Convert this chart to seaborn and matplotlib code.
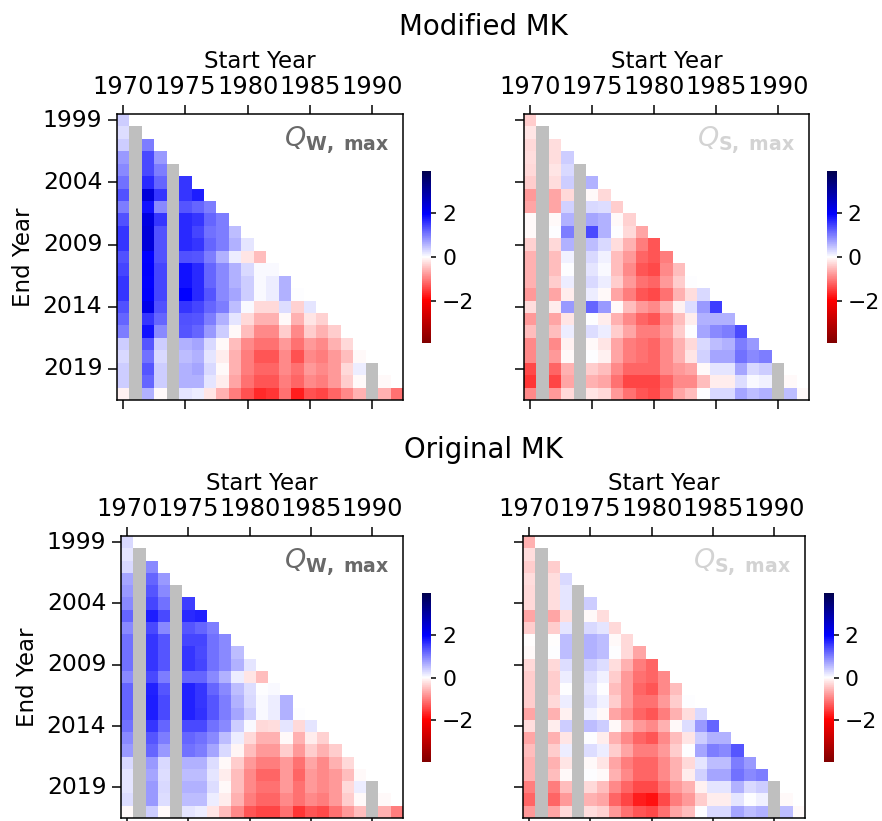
import numpy as np
import pandas as pd
import matplotlib
matplotlib.use("Agg")
import matplotlib.pyplot as plt
import seaborn as sns
from matplotlib.colors import ListedColormap

plt.rcParams['font.family'] = ['DejaVu Sans']
plt.rcParams['mathtext.fontset'] = 'dejavusans'

N = None
start_years = list(range(1970, 1993))
end_years = list(range(1999, 2022))
x_tick_years = [1970, 1975, 1980, 1985, 1990]
y_tick_years = [1999, 2004, 2009, 2014, 2019]
cbar_ticks = [-2, 0, 2]

# Modified MK, Q_W,max  (rows: end year 1999..2021, columns: start year 1970..)
mod_w = [
    [0.4],
    [0.25, N],
    [0.4, N, 1.0],
    [0.8, N, 1.4, 0.8],
    [0.9, N, 1.4, 1.0, N],
    [1.1, N, 1.65, 1.2, N, 1.55],
    [1.35, N, 2.4, 1.55, N, 1.55, 1.75],
    [1.0, N, 1.85, 0.9, N, 1.3, 1.2, 1.0],
    [1.35, N, 2.3, 1.55, N, 1.65, 1.55, 1.2, 1.0],
    [1.55, N, 2.4, 1.35, N, 1.65, 1.45, 1.1, 1.0, 0.5],
    [1.55, N, 2.4, 1.35, N, 1.65, 1.55, 1.2, 1.0, 0.6, 0.2],
    [1.35, N, 1.95, 1.35, N, 1.35, 1.3, 1.0, 0.6, 0.15, -0.2, -0.5],
    [1.45, N, 2.0, 1.45, N, 1.85, 1.65, 1.2, 0.9, 0.6, 0.3, 0.05, 0.05],
    [1.55, N, 1.95, 1.45, N, 1.85, 1.65, 1.2, 0.9, 0.6, 0.4, 0.05, 0.15, 0.6],
    [1.55, N, 2.0, 1.45, N, 1.95, 1.65, 1.3, 0.9, 0.7, 0.4, 0.05, 0.15, 0.6, 0.03],
    [1.35, N, 2.2, 1.35, N, 1.55, 1.45, 1.2, 1.0, 0.5, 0.05, -0.3, -0.3, 0.25, -0.35, 0.2],
    [1.2, N, 1.55, 1.2, N, 1.35, 1.3, 1.0, 0.6, 0.2, -0.3, -0.6, -0.6, -0.05, -0.6, -0.2, -0.35],
    [1.0, N, 1.85, 0.9, N, 1.3, 1.2, 0.8, 0.4, -0.05, -0.5, -0.9, -0.9, -0.4, -0.9, -0.4, -0.6, -0.4],
    [0.4, N, 1.3, 0.4, N, 0.6, 0.7, 0.3, -0.05, -0.5, -0.9, -1.1, -1.1, -0.8, -1.1, -0.8, -0.9, -0.6, -0.3],
    [0.3, N, 1.1, 0.3, N, 0.5, 0.6, 0.2, -0.15, -0.6, -1.0, -1.3, -1.3, -0.9, -1.35, -0.9, -1.0, -0.8, -0.5, -0.05],
    [0.4, N, 1.3, 0.4, N, 0.6, 0.7, 0.3, -0.05, -0.6, -1.0, -1.2, -1.2, -0.9, -1.1, -0.8, -0.9, -0.8, -0.3, 0.15, N],
    [0.4, N, 1.2, 0.4, N, 0.6, 0.6, 0.2, -0.15, -0.7, -1.1, -1.3, -1.3, -1.0, -1.2, -0.9, -1.0, -0.8, -0.4, -0.05, N, -0.05],
    [-0.1, N, 0.6, -0.05, N, 0.2, 0.15, -0.2, -0.6, -1.0, -1.35, -1.65, -1.55, -1.1, -1.75, -1.35, -1.45, -1.2, -0.9, -0.6, N, -0.6, -1.1],
]

# Modified MK, Q_S,max
mod_s = [
    [-0.4],
    [-0.2, N],
    [-0.3, N, -0.25],
    [-0.25, N, -0.25, 0.4],
    [-0.3, N, -0.2, 0.3, N],
    [-0.4, N, -0.25, 0.4, N, 0.6],
    [-0.8, N, -0.7, -0.3, N, -0.05, -0.3],
    [-0.7, N, -0.7, 0.35, N, 0.3, 0.25, -0.4],
    [-0.05, N, -0.05, 0.6, N, 0.7, 0.6, -0.05, -0.35],
    [-0.05, N, 0.03, 1.0, N, 1.4, 0.6, 0.03, -0.3, -0.7],
    [-0.35, N, -0.3, 0.6, N, 0.5, 0.3, -0.25, -0.6, -1.0, -1.3],
    [-0.6, N, -0.5, 0.1, N, 0.3, 0.1, -0.5, -0.8, -1.2, -1.3, -1.0],
    [-0.6, N, -0.5, 0.02, N, 0.2, 0.05, -0.5, -0.9, -1.3, -1.4, -0.9, -0.5],
    [-0.6, N, -0.4, 0.15, N, 0.3, 0.15, -0.4, -0.8, -1.1, -1.2, -0.8, -0.4, 0.03],
    [-0.8, N, -0.7, -0.15, N, 0.15, -0.05, -0.7, -1.0, -1.3, -1.4, -1.1, -0.6, -0.25, 0.3],
    [-0.25, N, -0.15, 0.8, N, 1.2, 0.8, -0.05, -0.5, -0.8, -0.9, -0.6, -0.1, 0.25, 0.8, 1.5],
    [-0.8, N, -0.7, -0.2, N, 0.02, -0.15, -0.6, -0.9, -1.2, -1.3, -0.9, -0.5, -0.15, 0.6, 0.6, 0.6],
    [-0.5, N, -0.5, 0.15, N, 0.25, 0.15, -0.4, -0.7, -1.0, -1.0, -0.8, -0.4, 0.03, 0.7, 0.9, 1.0, 1.4],
    [-0.9, N, -0.9, -0.1, N, -0.05, -0.2, -0.7, -1.0, -1.1, -1.2, -0.9, -0.6, -0.3, 0.3, 0.5, 0.6, 1.0, 0.8],
    [-0.9, N, -0.8, -0.05, N, 0.03, -0.1, -0.7, -1.0, -1.1, -1.2, -0.9, -0.6, -0.2, 0.35, 0.7, 0.7, 1.1, 0.9, 1.0],
    [-1.4, N, -1.2, -0.6, N, -0.4, -0.5, -0.9, -1.2, -1.2, -1.2, -0.9, -0.8, -0.7, -0.05, 0.2, 0.2, 0.7, 0.3, 0.4, N],
    [-1.55, N, -1.45, -0.7, N, -0.6, -0.7, -1.1, -1.45, -1.45, -1.45, -1.2, -0.9, -0.9, -0.5, -0.15, -0.15, 0.25, 0.05, 0.1, N, -0.05],
    [-0.9, N, -0.8, -0.3, N, -0.2, -0.3, -0.8, -1.1, -1.3, -1.4, -1.1, -0.7, -0.5, 0.02, 0.3, 0.3, 0.7, 0.5, 0.6, N, 0.5, -0.05],
]

# Original MK, Q_W,max
orig_w = [
    [0.3],
    [0.2, N],
    [0.3, N, 0.9],
    [0.7, N, 1.2, 0.8],
    [0.8, N, 1.3, 0.9, N],
    [0.9, N, 1.45, 1.1, N, 1.5],
    [1.2, N, 1.75, 1.4, N, 1.65, 1.7],
    [0.9, N, 1.4, 0.9, N, 1.3, 1.2, 1.0],
    [1.1, N, 1.55, 1.3, N, 1.45, 1.45, 1.1, 0.9],
    [1.1, N, 1.55, 1.3, N, 1.55, 1.4, 1.1, 0.9, 0.5],
    [1.1, N, 1.55, 1.3, N, 1.55, 1.45, 1.1, 0.9, 0.6, 0.2],
    [0.9, N, 1.4, 1.0, N, 1.2, 1.2, 0.9, 0.6, 0.15, -0.2, -0.5],
    [1.2, N, 1.7, 1.3, N, 1.7, 1.55, 1.2, 0.9, 0.5, 0.25, 0.03, 0.05],
    [1.2, N, 1.75, 1.4, N, 1.7, 1.55, 1.3, 1.0, 0.6, 0.3, 0.05, 0.15, 0.6],
    [1.2, N, 1.75, 1.4, N, 1.7, 1.6, 1.3, 1.0, 0.7, 0.4, 0.05, 0.15, 0.6, 0.03],
    [1.1, N, 1.55, 1.2, N, 1.4, 1.4, 1.1, 0.9, 0.4, 0.05, -0.3, -0.25, 0.2, -0.3, 0.2],
    [0.9, N, 1.3, 1.0, N, 1.2, 1.1, 0.9, 0.5, 0.15, -0.3, -0.6, -0.6, -0.05, -0.6, -0.15, -0.35],
    [0.8, N, 1.2, 0.8, N, 1.1, 1.0, 0.7, 0.3, -0.08, -0.5, -0.8, -0.8, -0.4, -0.8, -0.4, -0.6, -0.4],
    [0.3, N, 0.8, 0.3, N, 0.6, 0.6, 0.25, -0.05, -0.4, -0.8, -1.0, -1.0, -0.8, -1.1, -0.7, -0.9, -0.6, -0.3],
    [0.2, N, 0.7, 0.25, N, 0.5, 0.5, 0.2, -0.15, -0.5, -0.9, -1.2, -1.2, -0.8, -1.2, -0.8, -0.9, -0.8, -0.5, -0.05],
    [0.2, N, 0.8, 0.3, N, 0.6, 0.6, 0.25, -0.05, -0.5, -0.9, -1.1, -1.1, -0.8, -1.1, -0.8, -0.9, -0.8, -0.3, 0.15, N],
    [0.25, N, 0.8, 0.25, N, 0.5, 0.5, 0.15, -0.15, -0.6, -1.0, -1.2, -1.2, -0.9, -1.1, -0.9, -1.0, -0.8, -0.4, -0.05, N, -0.05],
    [-0.05, N, 0.4, -0.05, N, 0.2, 0.15, -0.2, -0.5, -0.9, -1.3, -1.45, -1.45, -1.1, -1.55, -1.3, -1.4, -1.1, -0.8, -0.5, N, -0.6, -1.0],
]

# Original MK, Q_S,max
orig_s = [
    [-0.6],
    [-0.25, N],
    [-0.4, N, -0.4],
    [-0.25, N, -0.25, 0.3],
    [-0.3, N, -0.25, 0.2, N],
    [-0.3, N, -0.25, 0.2, N, 0.4],
    [-0.7, N, -0.7, -0.25, N, -0.05, -0.25],
    [-0.4, N, -0.4, 0.2, N, 0.3, 0.2, -0.3],
    [-0.03, N, -0.03, 0.5, N, 0.6, 0.5, -0.05, -0.3],
    [-0.05, N, 0.03, 0.5, N, 0.6, 0.5, 0.03, -0.3, -0.7],
    [-0.3, N, -0.3, 0.25, N, 0.4, 0.25, -0.25, -0.6, -1.0, -1.2],
    [-0.4, N, -0.4, 0.15, N, 0.25, 0.1, -0.4, -0.8, -1.1, -1.2, -0.9],
    [-0.4, N, -0.4, 0.02, N, 0.2, 0.02, -0.5, -0.8, -1.2, -1.3, -0.9, -0.5],
    [-0.4, N, -0.3, 0.15, N, 0.25, 0.1, -0.4, -0.8, -1.1, -1.1, -0.8, -0.4, 0.03],
    [-0.7, N, -0.6, -0.1, N, 0.1, -0.05, -0.7, -0.9, -1.2, -1.3, -1.0, -0.6, -0.25, 0.3],
    [-0.25, N, -0.15, 0.4, N, 0.5, 0.4, -0.05, -0.5, -0.8, -0.9, -0.6, -0.05, 0.25, 0.8, 1.2],
    [-0.7, N, -0.6, -0.2, N, 0.03, -0.15, -0.6, -0.9, -1.2, -1.3, -0.9, -0.5, -0.2, 0.4, 0.6, 0.6],
    [-0.5, N, -0.4, 0.15, N, 0.25, 0.15, -0.4, -0.7, -1.0, -1.0, -0.8, -0.4, 0.03, 0.7, 1.0, 0.9, 1.3],
    [-0.6, N, -0.6, -0.2, N, -0.05, -0.2, -0.7, -1.0, -1.2, -1.2, -0.9, -0.6, -0.3, 0.2, 0.5, 0.5, 1.0, 0.8],
    [-0.6, N, -0.5, -0.05, N, 0.03, -0.05, -0.6, -0.9, -1.2, -1.2, -0.9, -0.6, -0.15, 0.35, 0.7, 0.7, 1.1, 0.9, 1.0],
    [-1.0, N, -1.0, -0.5, N, -0.3, -0.5, -0.9, -1.2, -1.4, -1.4, -1.1, -0.8, -0.6, -0.1, 0.2, 0.2, 0.6, 0.3, 0.4, N],
    [-1.2, N, -1.2, -0.8, N, -0.6, -0.7, -1.2, -1.45, -1.75, -1.85, -1.4, -1.0, -0.8, -0.4, -0.15, -0.15, 0.2, 0.03, 0.1, N, -0.05],
    [-0.8, N, -0.7, -0.3, N, -0.25, -0.35, -0.8, -1.1, -1.3, -1.4, -1.1, -0.7, -0.5, 0.02, 0.3, 0.3, 0.7, 0.5, 0.6, N, 0.5, -0.05],
]

VMAX = 3.95
DPI = 137
W, H = 882, 821
fig = plt.figure(figsize=(W / DPI, H / DPI), dpi=DPI)


def rect(l, t, r, b):
    return [l / W, (H - b) / H, (r - l) / W, (b - t) / H]


def draw(ax, cax, rows, label, lcolor, left):
    vals = np.full((len(end_years), len(start_years)), np.nan)
    gray = np.full_like(vals, np.nan)
    for i, row in enumerate(rows):
        for j, v in enumerate(row):
            if v is None:
                gray[i, j] = 1.0
            else:
                vals[i, j] = v
    df = pd.DataFrame(vals, index=end_years, columns=start_years)
    gdf = pd.DataFrame(gray, index=end_years, columns=start_years)
    sns.heatmap(gdf, ax=ax, cmap=ListedColormap(['#bfbfbf']), vmin=0, vmax=2,
                cbar=False)
    sns.heatmap(df, ax=ax, cmap='seismic_r', vmin=-VMAX, vmax=VMAX,
                cbar_ax=cax, cbar_kws={'ticks': cbar_ticks})
    for s in ax.spines.values():
        s.set_visible(True)
        s.set_linewidth(0.8)
        s.set_color('black')
    ax.set_xticks([start_years.index(y) + 0.5 for y in x_tick_years])
    ax.set_xticklabels([str(y) for y in x_tick_years], rotation=0)
    ax.set_yticks([end_years.index(y) + 0.5 for y in y_tick_years])
    ax.set_yticklabels([str(y) for y in y_tick_years], rotation=0)
    ax.tick_params(axis='x', top=True, labeltop=True, bottom=True,
                   labelbottom=False, length=4.7, width=0.8, pad=3,
                   labelsize=12.7)
    ax.tick_params(axis='y', left=True, labelleft=left, right=False,
                   length=4.7, width=0.8, pad=3, labelsize=12.3)
    ax.xaxis.set_label_position('top')
    ax.set_xlabel('Start Year', fontsize=12)
    ax.set_ylabel('End Year' if left else '', fontsize=12)
    ax.text(0.952, 0.965, label, transform=ax.transAxes, ha='right',
            va='top', fontsize=14.2, color=lcolor)
    cax.tick_params(labelsize=11.5, length=2.6, width=0.8, pad=3.2)


panels = [
    (mod_w, r'$Q_{\mathbf{W,\ max}}$', 'dimgray', True,
     rect(117, 114, 403, 400), rect(422, 171, 431, 343)),
    (mod_s, r'$Q_{\mathbf{S,\ max}}$', 'lightgray', False,
     rect(524, 114, 809, 400), rect(827, 171, 836.5, 343)),
    (orig_w, r'$Q_{\mathbf{W,\ max}}$', 'dimgray', True,
     rect(121, 536, 403, 818), rect(422, 593, 431, 762)),
    (orig_s, r'$Q_{\mathbf{S,\ max}}$', 'lightgray', False,
     rect(523, 536, 805, 818), rect(824, 593, 833.5, 762)),
]

for rows, label, lcolor, left, axr, cr in panels:
    ax = fig.add_axes(axr)
    cax = fig.add_axes(cr)
    draw(ax, cax, rows, label, lcolor, left)

fig.text(483 / W, 1 - 27 / H, 'Modified MK', ha='center', va='center',
         fontsize=14.5)
fig.text(483 / W, 1 - 450 / H, 'Original MK', ha='center', va='center',
         fontsize=14.5)

fig.savefig('out.png', dpi=DPI, facecolor='white')
